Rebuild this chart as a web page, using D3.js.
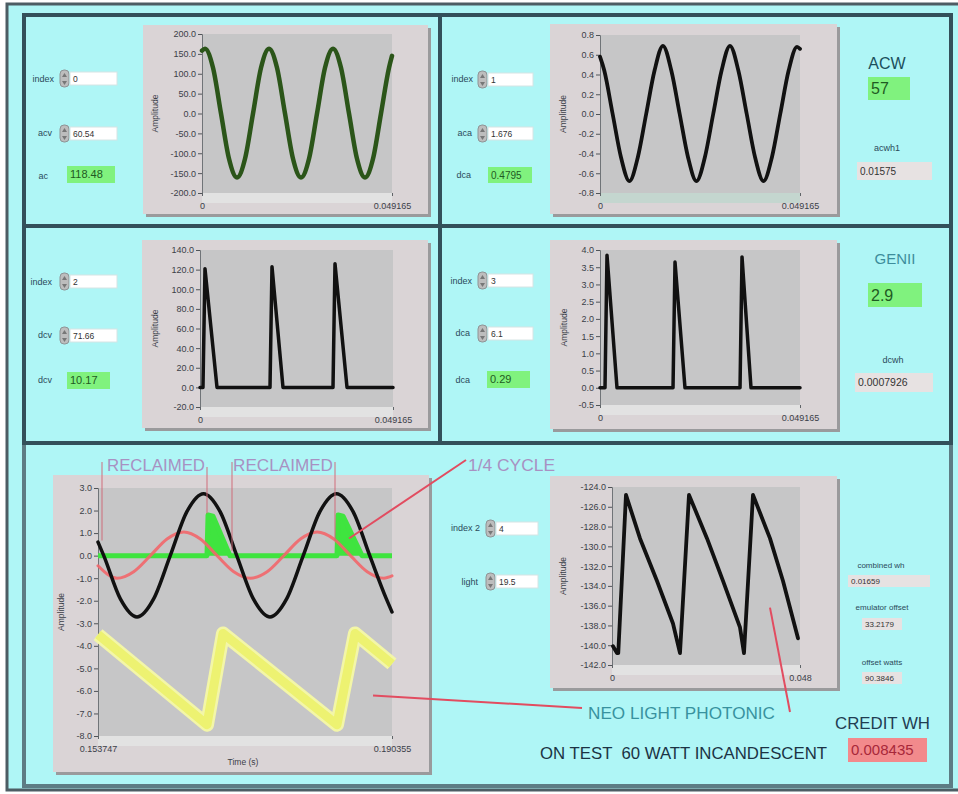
<!DOCTYPE html>
<html>
<head>
<meta charset="utf-8">
<style>
  body { margin: 0; background: #fff; }
  svg { display: block; font-family: "Liberation Sans", Arial, sans-serif; }
  .tick text { fill: #3a4048; }
</style>
</head>
<body>
<svg width="958" height="794"></svg>
<script src="https://d3js.org/d3.v7.min.js"></script>
<script>
// ---------- values ----------
// top left : ac volts
var acvTime = [0, 0.00078, 0.00285, 0.00492, 0.00699, 0.00906, 0.01113, 0.01320, 0.01527, 0.01734, 0.01941,
               0.02148, 0.02355, 0.02562, 0.02769, 0.02976, 0.03183, 0.03390, 0.03597, 0.03804, 0.04011,
               0.04218, 0.04425, 0.04632, 0.04839, 0.049165];
var acvVals = [158, 163, 115, 0, -114, -161, -114, 0, 115, 163, 115,
               0, -114, -161, -114, 0, 115, 163, 115, 0, -114,
               -161, -114, 0, 115, 145];
// top right : ac amps
var acaTime = [0, 0.00105, 0.00311, 0.00517, 0.00723, 0.00929, 0.01135, 0.01341, 0.01547, 0.01753, 0.01959,
               0.02165, 0.02371, 0.02577, 0.02783, 0.02989, 0.03195, 0.03401, 0.03607, 0.03813, 0.04019,
               0.04225, 0.04431, 0.04637, 0.04843, 0.049165];
var acaVals = [0.58, 0.44, 0, -0.44, -0.68, -0.44, 0, 0.44, 0.69, 0.44, 0,
               -0.44, -0.68, -0.44, 0, 0.44, 0.69, 0.44, 0, -0.44, -0.68,
               -0.44, 0, 0.44, 0.68, 0.66];
// middle left : dc volts
var dcvTime = [0, 0.00076, 0.00127, 0.00433, 0.01783, 0.01834, 0.02114, 0.03388, 0.03439, 0.03745, 0.049165];
var dcvVals = [0, 0, 121, 0, 0, 123, 0, 0, 126, 0, 0];
// middle right : dc amps
var dcaTime = [0, 0.00123, 0.00172, 0.00418, 0.01795, 0.01844, 0.02089, 0.03442, 0.03491, 0.03712, 0.049165];
var dcaVals = [0, 0, 3.85, 0, 0, 3.65, 0, 0, 3.8, 0, 0];
// bottom left : combined trace
var blackTime = [0.153747, 0.154463, 0.156533, 0.158603, 0.160673, 0.162743, 0.164813, 0.166883, 0.168953, 0.171023,
                 0.173093, 0.175163, 0.177233, 0.179303, 0.181373, 0.183443, 0.185513, 0.187583, 0.189653, 0.190355];
var blackVals = [0.6, 0, -1.92, -2.72, -1.92, 0, 1.95, 2.75, 1.95, 0,
                 -1.92, -2.72, -1.92, 0, 1.95, 2.75, 1.95, 0, -1.92, -2.5];
var redTime = [0.153747, 0.156113, 0.158190, 0.160267, 0.162344, 0.164421, 0.166498, 0.168575, 0.170652, 0.172729,
               0.174806, 0.176883, 0.178960, 0.181037, 0.183114, 0.185191, 0.187268, 0.189345, 0.190355];
var redVals = [-0.45, -1.0, -0.71, 0, 0.74, 1.05, 0.74, 0, -0.71, -1.0,
               -0.71, 0, 0.74, 1.05, 0.74, 0, -0.71, -1.0, -0.9];
var greenTime = [0.153747, 0.167319, 0.167450, 0.168067, 0.170183, 0.183507, 0.183640, 0.184254, 0.186619, 0.190355];
var greenVals = [0, 0, 1.8, 1.75, 0, 0, 1.8, 1.75, 0, 0];
var yellowTime = [0.153747, 0.167319, 0.169312, 0.183507, 0.185748, 0.190355];
var yellowVals = [-3.5, -7.5, -3.45, -7.5, -3.45, -4.8];
// bottom right : light sensor
var lightTime = [0.00026, 0.00128, 0.00160, 0.00357, 0.00715, 0.01149, 0.01557, 0.01736, 0.01966, 0.02426,
                 0.02834, 0.03268, 0.03370, 0.03600, 0.04034, 0.04366, 0.04749];
var lightVals = [-140.1, -140.8, -140.8, -124.8, -129.2, -133.5, -137.8, -140.8, -124.8, -129.2,
                 -133.5, -138.2, -140.8, -124.8, -129.2, -133.5, -139.3];

// tick labels
var acvTicks = [-200, -150, -100, -50, 0, 50, 100, 150, 200];
var acaTicks = [-0.8, -0.6, -0.4, -0.2, 0, 0.2, 0.4, 0.6, 0.8];
var dcvTicks = [-20, 0, 20, 40, 60, 80, 100, 120, 140];
var dcaTicks = [-0.5, 0, 0.5, 1, 1.5, 2, 2.5, 3, 3.5, 4];
var combTicks = [-8, -7, -6, -5, -4, -3, -2, -1, 0, 1, 2, 3];
var lightTicks = [-142, -140, -138, -136, -134, -132, -130, -128, -126, -124];
var xEnds = ["0", "0.049165"];
var combXEnds = ["0.153747", "0.190355"];
var lightXEnds = ["0", "0.048"];

var svg = d3.select("svg");
var cyan = "#aff6f6";

// ---------- panel background and frames ----------
svg.append("rect").attr("x", 7).attr("y", 4).attr("width", 960).attr("height", 786)
    .attr("fill", cyan).attr("stroke", "#4d5d64").attr("stroke-width", 3);

function panel(x0, y0, x1, y1, col) {
  svg.append("rect").attr("x", x0).attr("y", y0).attr("width", x1 - x0).attr("height", y1 - y0)
      .attr("fill", "none").attr("stroke", col).attr("stroke-width", 4);
}
panel(24, 443, 951, 786, "#5d7c84");
panel(24, 15, 440, 226, "#33505a");
panel(440, 15, 951, 226, "#33505a");
panel(24, 226, 440, 443, "#33505a");
panel(440, 226, 951, 443, "#33505a");

// ---------- graph builder ----------
function graph(c) {
  var g = svg.append("g");
  var f = c.frame, p = c.plot;
  g.append("rect").attr("x", f[0] + 3).attr("y", f[1] + 3).attr("width", f[2] - f[0]).attr("height", f[3] - f[1])
      .attr("fill", "#9a9a9c");
  g.append("rect").attr("x", f[0]).attr("y", f[1]).attr("width", f[2] - f[0]).attr("height", f[3] - f[1])
      .attr("fill", "#dad4d6");
  g.append("rect").attr("x", p[0]).attr("y", p[3]).attr("width", p[2] - p[0]).attr("height", 10)
      .attr("fill", c.band || "#e2e2e2");
  g.append("rect").attr("x", p[0]).attr("y", p[1]).attr("width", p[2] - p[0]).attr("height", p[3] - p[1])
      .attr("fill", "#c6c6c7");

  var x = d3.scaleLinear().domain(c.xDomain).range([p[0], p[2]]);
  var y = d3.scaleLinear().domain(c.yDomain).range([p[3], p[1]]);

  var ya = g.append("g").attr("transform", "translate(" + p[0] + ",0)")
      .call(d3.axisLeft(y).tickValues(c.yTicks).tickSize(4).tickPadding(2)
        .tickFormat(function(d) { return d.toFixed(1); }));
  ya.selectAll("text").attr("font-size", 9).attr("font-family", "Liberation Sans");
  ya.select(".domain").attr("stroke", "#707478");
  ya.selectAll(".tick line").attr("stroke", "#505458");

  var xa = g.append("g").attr("transform", "translate(0," + p[3] + ")")
      .call(d3.axisBottom(x).tickValues(c.xDomain).tickSize(3).tickPadding(7)
        .tickFormat(function(d, i) { return c.xLabels[i]; }));
  xa.selectAll("text").attr("font-size", 9).attr("font-family", "Liberation Sans");
  xa.select(".domain").remove();
  xa.selectAll(".tick line").attr("stroke", "#606468");

  g.append("text").attr("transform", "translate(" + c.ylabX + "," + ((p[1] + p[3]) / 2) + ") rotate(-90)")
      .attr("text-anchor", "middle").attr("font-size", 8.5).attr("fill", "#3a4048").text("Amplitude");
  return { g: g, x: x, y: y };
}

function trace(gr, ts, vs, col, w, curve) {
  var line = d3.line().x(function(d, i) { return gr.x(ts[i]); }).y(function(d) { return gr.y(d); })
      .curve(curve || d3.curveLinear);
  return gr.g.append("path").datum(vs).attr("d", line).attr("fill", "none")
      .attr("stroke", col).attr("stroke-width", w).attr("stroke-linejoin", "round").attr("stroke-linecap", "round");
}

var gAcv = graph({ frame: [143, 25, 428, 214], plot: [202, 34, 392, 193], xDomain: [0, 0.049165], yDomain: [-200, 200],
  yTicks: acvTicks, xLabels: xEnds, ylabX: 158 });
trace(gAcv, acvTime, acvVals, "#2b5519", 4.5, d3.curveMonotoneX);

var gAca = graph({ frame: [550, 24, 837, 214], plot: [600, 35, 800, 193], xDomain: [0, 0.049165], yDomain: [-0.8, 0.8],
  yTicks: acaTicks, xLabels: xEnds, ylabX: 566, band: "#c4d6cf" });
trace(gAca, acaTime, acaVals, "#111", 3.8, d3.curveMonotoneX);

var gDcv = graph({ frame: [142, 240, 428, 428], plot: [200, 250, 393, 407], xDomain: [0, 0.049165], yDomain: [-20, 140],
  yTicks: dcvTicks, xLabels: xEnds, ylabX: 158 });
trace(gDcv, dcvTime, dcvVals, "#111", 3.5);

var gDca = graph({ frame: [550, 240, 837, 429], plot: [600, 250, 800, 405], xDomain: [0, 0.049165], yDomain: [-0.5, 4.0],
  yTicks: dcaTicks, xLabels: xEnds, ylabX: 567 });
trace(gDca, dcaTime, dcaVals, "#111", 3.5);

var gComb = graph({ frame: [53, 475, 429, 772], plot: [98, 488, 392, 736], xDomain: [0.153747, 0.190355], yDomain: [-8, 3],
  yTicks: combTicks, xLabels: combXEnds, ylabX: 64 });
gComb.g.append("text").attr("x", 243).attr("y", 765).attr("text-anchor", "middle")
    .attr("font-size", 8.5).attr("fill", "#3a4048").text("Time (s)");
// green reclaimed trace, filled down to zero
gComb.g.append("path").datum(greenVals)
    .attr("d", d3.area().x(function(d, i) { return gComb.x(greenTime[i]); }).y0(gComb.y(0)).y1(function(d) { return gComb.y(d); }))
    .attr("fill", "#3fe43f");
trace(gComb, greenTime, greenVals, "#3fe43f", 5).attr("stroke-linecap", "butt");
// noisy light trace drawn as a soft wide band
trace(gComb, yellowTime, yellowVals, "#f3f6a8", 14).attr("stroke-linecap", "butt");
trace(gComb, yellowTime, yellowVals, "#edf271", 9).attr("stroke-linecap", "butt");
trace(gComb, redTime, redVals, "#f2666a", 3, d3.curveMonotoneX).attr("opacity", 0.9);
trace(gComb, blackTime, blackVals, "#111", 3.5, d3.curveMonotoneX);

var gLight = graph({ frame: [550, 476, 837, 688], plot: [612, 487, 800, 665], xDomain: [0, 0.048], yDomain: [-142, -124],
  yTicks: lightTicks, xLabels: lightXEnds, ylabX: 566 });
trace(gLight, lightTime, lightVals, "#111", 3.8);

// ---------- controls ----------
function spinBox(label, lx, ly, bx, by, bw, val) {
  svg.append("text").attr("x", lx).attr("y", ly).attr("text-anchor", "end").attr("font-size", 9)
      .attr("fill", "#2b4a5a").text(label);
  svg.append("rect").attr("x", bx - 10).attr("y", by - 2).attr("width", 9).attr("height", 17).attr("rx", 4)
      .attr("fill", "#bdbdbd").attr("stroke", "#8e9496");
  svg.append("path").attr("d", "M" + (bx - 8) + "," + (by + 5) + "l2.5,-4l2.5,4z M" + (bx - 8) + "," + (by + 9) + "l2.5,4l2.5,-4z")
      .attr("fill", "#777");
  svg.append("rect").attr("x", bx).attr("y", by).attr("width", bw).attr("height", 13)
      .attr("fill", "#fff").attr("stroke", "#d6e4e4");
  svg.append("text").attr("x", bx + 3).attr("y", by + 10).attr("font-size", 8.5).attr("fill", "#333").text(val);
}
function indicator(label, lx, ly, bx, by, bw, bh, val, fill, col, fs) {
  if (label) svg.append("text").attr("x", lx).attr("y", ly).attr("text-anchor", "end").attr("font-size", 9)
      .attr("fill", "#2b4a5a").text(label);
  svg.append("rect").attr("x", bx).attr("y", by).attr("width", bw).attr("height", bh).attr("fill", fill);
  svg.append("text").attr("x", bx + 3).attr("y", by + bh / 2 + fs * 0.36).attr("font-size", fs).attr("fill", col).text(val);
}
var green = "#80f27e";

spinBox("index", 54, 82, 70, 72, 47, "0");
spinBox("acv", 52, 136, 70, 127, 47, "60.54");
indicator("ac", 48, 179, 67, 166, 48, 17, "118.48", green, "#1f5a23", 11);

spinBox("index", 473, 82, 488, 73, 45, "1");
spinBox("aca", 472, 136, 488, 127, 45, "1.676");
indicator("dca", 471, 178, 488, 167, 44, 16, "0.4795", green, "#1f5a23", 10);

spinBox("index", 52, 285, 70, 275, 47, "2");
spinBox("dcv", 52, 338, 70, 329, 47, "71.66");
indicator("dcv", 52, 383, 67, 372, 43, 17, "10.17", green, "#1f5a23", 11);

spinBox("index", 472, 284, 488, 274, 45, "3");
spinBox("dca", 470, 336, 488, 327, 45, "6.1");
indicator("dca", 470, 383, 487, 371, 43, 17, "0.29", green, "#1f5a23", 11);

spinBox("index 2", 480, 531, 496, 522, 42, "4");
spinBox("light", 478, 585, 496, 575, 42, "19.5");

// ---------- right hand read-outs ----------
function caption(txt, cx, y, fs, col) {
  return svg.append("text").attr("x", cx).attr("y", y).attr("text-anchor", "middle").attr("font-size", fs)
      .attr("fill", col).text(txt);
}
caption("ACW", 887, 69, 16, "#1b4f5c");
indicator(null, 0, 0, 868, 77, 42, 23, "57", green, "#1f5a23", 16);
caption("acwh1", 887, 151, 9, "#2b4a5a");
indicator(null, 0, 0, 857, 162, 75, 18, "0.01575", "#e7e2e2", "#333", 10);

caption("GENII", 895, 264, 15, "#3d8d9c");
indicator(null, 0, 0, 868, 283, 54, 24, "2.9", green, "#1f5a23", 16);
caption("dcwh", 893, 363, 9, "#2b4a5a");
indicator(null, 0, 0, 855, 373, 78, 19, "0.0007926", "#e7e2e2", "#333", 10.5);

caption("combined wh", 881, 568, 8, "#2b4a5a");
indicator(null, 0, 0, 848, 575, 82, 12, "0.01659", "#e7e2e2", "#333", 8);
caption("emulator offset", 882, 610, 8, "#2b4a5a");
indicator(null, 0, 0, 862, 618, 40, 12, "33.2179", "#e7e2e2", "#333", 8);
caption("offset watts", 882, 665, 8, "#2b4a5a");
indicator(null, 0, 0, 862, 672, 40, 12, "90.3846", "#e7e2e2", "#333", 8);

function banner(txt, x, y, len, fs, col) {
  svg.append("text").attr("x", x).attr("y", y).attr("font-size", fs).attr("fill", col)
      .style("white-space", "pre")
      .attr("textLength", len).attr("lengthAdjust", "spacingAndGlyphs").text(txt);
}
banner("CREDIT WH", 835, 729, 95, 17, "#1f3d52");
indicator(null, 0, 0, 848, 738, 79, 24, "0.008435", "#f28a8c", "#a8283a", 15);
banner("ON TEST  60 WATT INCANDESCENT", 540, 759, 287, 17, "#1b3344");
banner("NEO LIGHT PHOTONIC", 588, 719, 187, 17, "#38929f");

// ---------- annotations on the combined trace ----------
var lav = "#a891c2", pointer = "#e24c60";
banner("RECLAIMED", 107, 471, 98, 17, lav);
banner("RECLAIMED", 233, 471, 100, 17, lav);
banner("1/4 CYCLE", 468, 471, 87, 17, lav);

var brackets = [[0.154245, 0.67, 462], [0.167319, 1.87, 467], [0.170432, 0.22, 462], [0.183258, 0.67, 462]];
brackets.forEach(function(b) {
  svg.append("line").attr("x1", gComb.x(b[0])).attr("x2", gComb.x(b[0])).attr("y1", b[2]).attr("y2", gComb.y(b[1]))
      .attr("stroke", "#d06a78").attr("stroke-width", 1.2).attr("opacity", 0.8);
});
svg.append("line").attr("x1", 466).attr("y1", 460).attr("x2", gComb.x(0.184999)).attr("y2", gComb.y(0.76))
    .attr("stroke", pointer).attr("stroke-width", 2);
svg.append("line").attr("x1", gComb.x(0.18799)).attr("y1", gComb.y(-6.2)).attr("x2", 582).attr("y2", 708)
    .attr("stroke", pointer).attr("stroke-width", 2);
svg.append("line").attr("x1", gLight.x(0.04034)).attr("y1", gLight.y(-136.2)).attr("x2", 790).attr("y2", 712)
    .attr("stroke", pointer).attr("stroke-width", 2);
</script>
</body>
</html>
